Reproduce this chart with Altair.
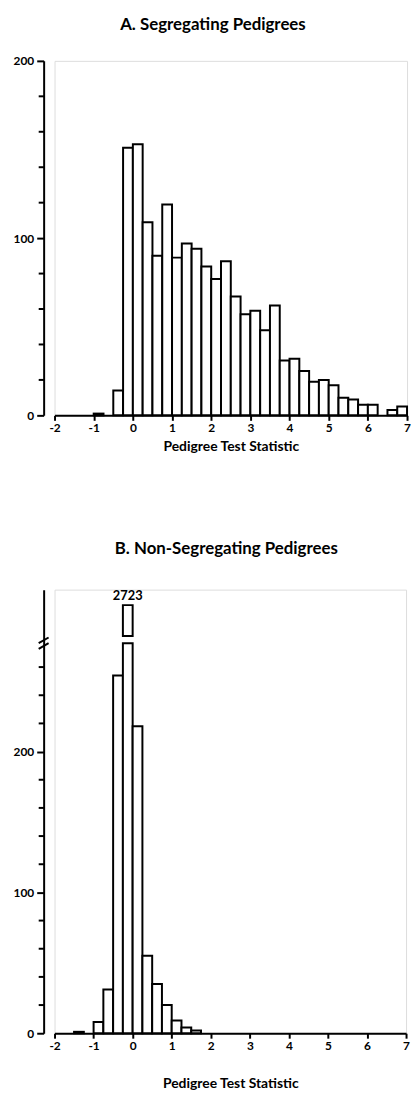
import altair as alt
import pandas as pd

# ---- data ----
BIN_W = 0.25
seg_starts = [-1.0, -0.75, -0.5, -0.25, 0.0, 0.25, 0.5, 0.75, 1.0, 1.25, 1.5, 1.75,
              2.0, 2.25, 2.5, 2.75, 3.0, 3.25, 3.5, 3.75, 4.0, 4.25, 4.5, 4.75,
              5.0, 5.25, 5.5, 5.75, 6.0, 6.25, 6.5, 6.75]
seg_counts = [1, 0, 14, 151, 153, 109, 90, 119, 89, 97, 94, 84,
              77, 87, 67, 57, 59, 48, 62, 31, 32, 25, 19, 20,
              17, 10, 9, 6, 6, 0, 3, 5]

non_starts = [-1.5, -1.25, -1.0, -0.75, -0.5, -0.25, 0.0, 0.25, 0.5, 0.75, 1.0, 1.25, 1.5]
non_counts = [1, 0, 8, 31, 254, 2723, 218, 55, 35, 20, 9, 4, 2]

x_ticks = [-2, -1, 0, 1, 2, 3, 4, 5, 6, 7]
top_y_major = [0, 100, 200]
top_y_minor = [20, 40, 60, 80, 120, 140, 160, 180]
bot_y_major = [0, 100, 200]
bot_y_minor = [20, 40, 60, 80, 120, 140, 160, 180, 220, 240, 260]

# axis-break settings for panel B
BREAK_LO, BREAK_HI, CAP = 277, 282, 304
BOT_MAX = 315

FONT = "Lato"
Y_OFFSET = 11

def frame(starts, counts):
    df = pd.DataFrame({"start": starts, "count": counts})
    df["end"] = df["start"] + BIN_W
    df["mid"] = df["start"] + BIN_W / 2
    return df[df["count"] > 0]

top_df = frame(seg_starts, seg_counts)
bot_df = frame(non_starts, non_counts)

def x_axis(title, title_pad):
    return alt.Axis(values=x_ticks, title=title, titlePadding=title_pad,
                    labelExpr="toString(datum.value)", labelOverlap=False,
                    labelFont=FONT, labelFontWeight="bold", labelFontSize=12,
                    titleFont=FONT, titleFontWeight="bold", titleFontSize=14,
                    labelPadding=2, tickSize=5, tickWidth=2, domainWidth=2,
                    grid=False, labelFlush=False, domainColor="black",
                    tickColor="black", labelColor="black", titleColor="black")

def y_axis(values):
    return alt.Axis(values=values, title=None, offset=Y_OFFSET, grid=False,
                    labelOverlap=False, labelFlush=False, format="d",
                    labelFont=FONT, labelFontWeight="bold", labelFontSize=12,
                    labelPadding=3, tickSize=7, tickWidth=2, domainWidth=2,
                    domainColor="black", tickColor="black", labelColor="black")

bar_style = dict(fill="white", stroke="black", strokeWidth=2)

def minor(vals, scale, axis):
    df = pd.DataFrame({"v": vals})
    return alt.Chart(df).mark_tick(
        orient="horizontal", color="black", size=6, thickness=2, opacity=1
    ).encode(
        x=alt.value(-Y_OFFSET - 2),
        y=alt.Y("v:Q", scale=scale, axis=axis),
    )

# ---- panel A ----
XA = x_axis("Pedigree Test Statistic", 6)
YA = y_axis(top_y_major)
xs_a = alt.Scale(domain=[-2, 7], nice=False, zero=False)
ys_a = alt.Scale(domain=[0, 200], nice=False)

top_bars = alt.Chart(top_df).mark_rect(**bar_style).encode(
    x=alt.X("start:Q", scale=xs_a, axis=XA),
    x2="end:Q",
    y=alt.Y("count:Q", scale=ys_a, axis=YA),
    y2=alt.datum(0),
)
top = alt.layer(top_bars, minor(top_y_minor, ys_a, YA)).properties(
    width=356, height=358,
    title=alt.TitleParams("A. Segregating Pedigrees", font=FONT, fontWeight="bold",
                          fontSize=17, offset=21, dx=-18, color="black"),
)

# ---- panel B ----
XB = x_axis("Pedigree Test Statistic", 26)
YB = y_axis(bot_y_major)
xs_b = alt.Scale(domain=[-2, 7], nice=False, zero=False)
ys_b = alt.Scale(domain=[0, BOT_MAX], nice=False)

base = alt.Chart(bot_df)
lower = base.transform_calculate(
    shown=f"min(datum.count, {BREAK_LO})"
).mark_rect(**bar_style).encode(
    x=alt.X("start:Q", scale=xs_b, axis=XB),
    x2="end:Q",
    y=alt.Y("shown:Q", scale=ys_b, axis=YB),
    y2=alt.datum(0),
)
upper = base.transform_filter(f"datum.count > {BREAK_LO}").transform_calculate(
    lo=f"{BREAK_HI}", hi=f"{CAP}"
).mark_rect(**bar_style).encode(
    x=alt.X("start:Q", scale=xs_b, axis=XB), x2="end:Q",
    y=alt.Y("hi:Q", scale=ys_b, axis=YB), y2="lo:Q",
)
label = base.transform_filter(f"datum.count > {BREAK_LO}").transform_calculate(
    hi=f"{CAP}"
).mark_text(font=FONT, fontSize=13, fontWeight="bold", dy=-9, color="black").encode(
    x=alt.X("mid:Q", scale=xs_b, axis=XB),
    y=alt.Y("hi:Q", scale=ys_b, axis=YB), text="count:Q",
)
brk_df = pd.DataFrame({"a": [BREAK_LO - 4, BREAK_LO], "b": [BREAK_LO, BREAK_LO + 4]})
brk = alt.Chart(brk_df).mark_rule(stroke="black", strokeWidth=2).encode(
    x=alt.value(-Y_OFFSET - 5), x2=alt.value(-Y_OFFSET + 5),
    y=alt.Y("a:Q", scale=ys_b, axis=YB), y2="b:Q",
)
bottom = alt.layer(lower, upper, label, brk, minor(bot_y_minor, ys_b, YB)).properties(
    width=355, height=448,
    title=alt.TitleParams("B. Non-Segregating Pedigrees", font=FONT, fontWeight="bold",
                          fontSize=17, offset=32, dx=-4, color="black"),
)

chart = alt.vconcat(top, bottom, spacing=86).configure_view(
    stroke="transparent", strokeWidth=0
).configure(
    padding={"left": 4, "top": 2, "right": 0, "bottom": 0}
)
chart.save("out.html", embed_options={"renderer": "svg", "actions": False})
